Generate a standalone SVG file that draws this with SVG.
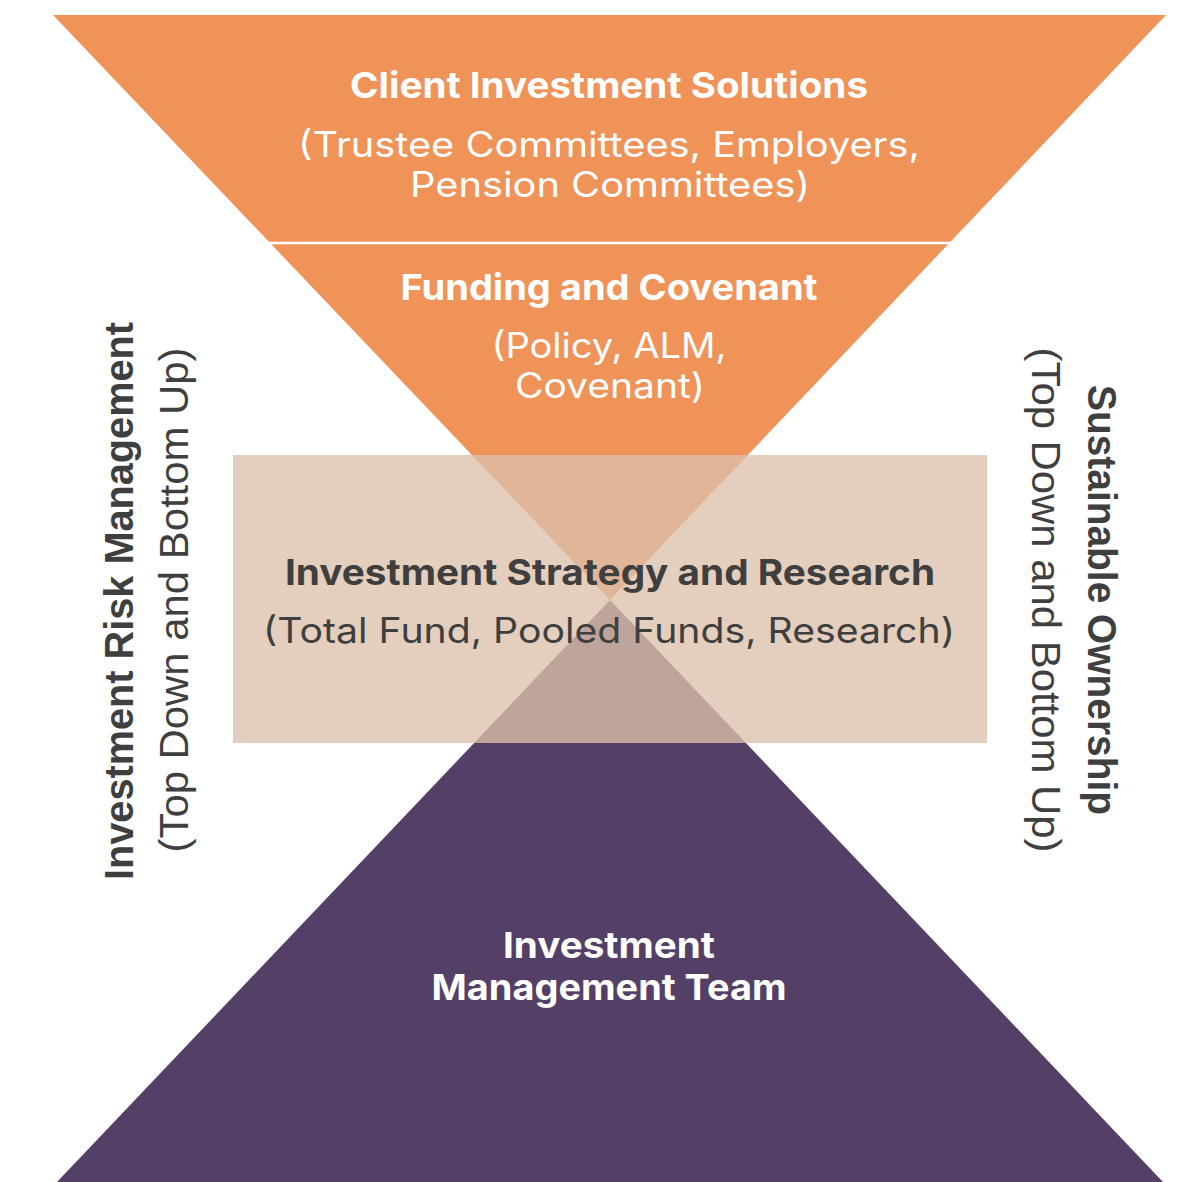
<svg xmlns="http://www.w3.org/2000/svg" width="1184" height="1182" viewBox="0 0 1184 1182">
<style>
.tw{fill:#ffffff;font-family:Inter,"Liberation Sans",sans-serif;text-anchor:middle}
.td{fill:#3f3f3f;font-family:Inter,"Liberation Sans",sans-serif;text-anchor:middle}
.b{font-weight:700;font-size:36px}
.r{font-weight:400;font-size:35px}
.side{fill:#3f3f3f;font-family:"Liberation Sans",Arial,sans-serif;font-size:40px;text-anchor:middle}
</style>
<rect width="1184" height="1182" fill="#ffffff"/>
<g id="top-triangle">
<polygon points="53,15 1166,15 610,600" fill="#EF9359"/>
<line x1="260" y1="243" x2="958" y2="243" stroke="#ffffff" stroke-width="2.5"/>
</g>
<g id="bottom-triangle">
<polygon points="610,600 1163,1182 57,1182" fill="#543F66"/>
</g>
<g id="strategy-box">
<rect x="233" y="455" width="754" height="288" fill="#DDC0AB" fill-opacity="0.78"/>
</g>
<g id="client-investment-solutions">
<text class="tw b" x="609" y="98" textLength="518" lengthAdjust="spacingAndGlyphs">Client Investment Solutions</text>
<text class="tw r" x="609" y="157" textLength="622" lengthAdjust="spacingAndGlyphs">(Trustee Committees, Employers,</text>
<text class="tw r" x="610" y="197" textLength="400" lengthAdjust="spacingAndGlyphs">Pension Committees)</text>
</g>
<g id="funding-and-covenant">
<text class="tw b" x="609" y="300" textLength="417" lengthAdjust="spacingAndGlyphs">Funding and Covenant</text>
<text class="tw r" x="609" y="358" textLength="235" lengthAdjust="spacingAndGlyphs">(Policy, ALM,</text>
<text class="tw r" x="610" y="398" textLength="190" lengthAdjust="spacingAndGlyphs">Covenant)</text>
</g>
<g id="investment-strategy-and-research">
<text class="td b" x="610" y="585" textLength="650" lengthAdjust="spacingAndGlyphs">Investment Strategy and Research</text>
<text class="td r" x="609" y="643" textLength="692" lengthAdjust="spacingAndGlyphs">(Total Fund, Pooled Funds, Research)</text>
</g>
<g id="investment-management-team">
<text class="tw b" x="609" y="958" textLength="212" lengthAdjust="spacingAndGlyphs">Investment</text>
<text class="tw b" x="609" y="1000" textLength="355" lengthAdjust="spacingAndGlyphs">Management Team</text>
</g>
<g id="investment-risk-management">
<text class="side" font-weight="700" transform="translate(133,601) rotate(-90)" textLength="558" lengthAdjust="spacingAndGlyphs">Investment Risk Management</text>
<text class="side" transform="translate(188,600) rotate(-90)" textLength="505" lengthAdjust="spacingAndGlyphs">(Top Down and Bottom Up)</text>
</g>
<g id="sustainable-ownership">
<text class="side" font-weight="700" transform="translate(1088,600) rotate(90)" textLength="430" lengthAdjust="spacingAndGlyphs">Sustainable Ownership</text>
<text class="side" transform="translate(1032,600) rotate(90)" textLength="505" lengthAdjust="spacingAndGlyphs">(Top Down and Bottom Up)</text>
</g>
<g id="connectors"/>
</svg>
